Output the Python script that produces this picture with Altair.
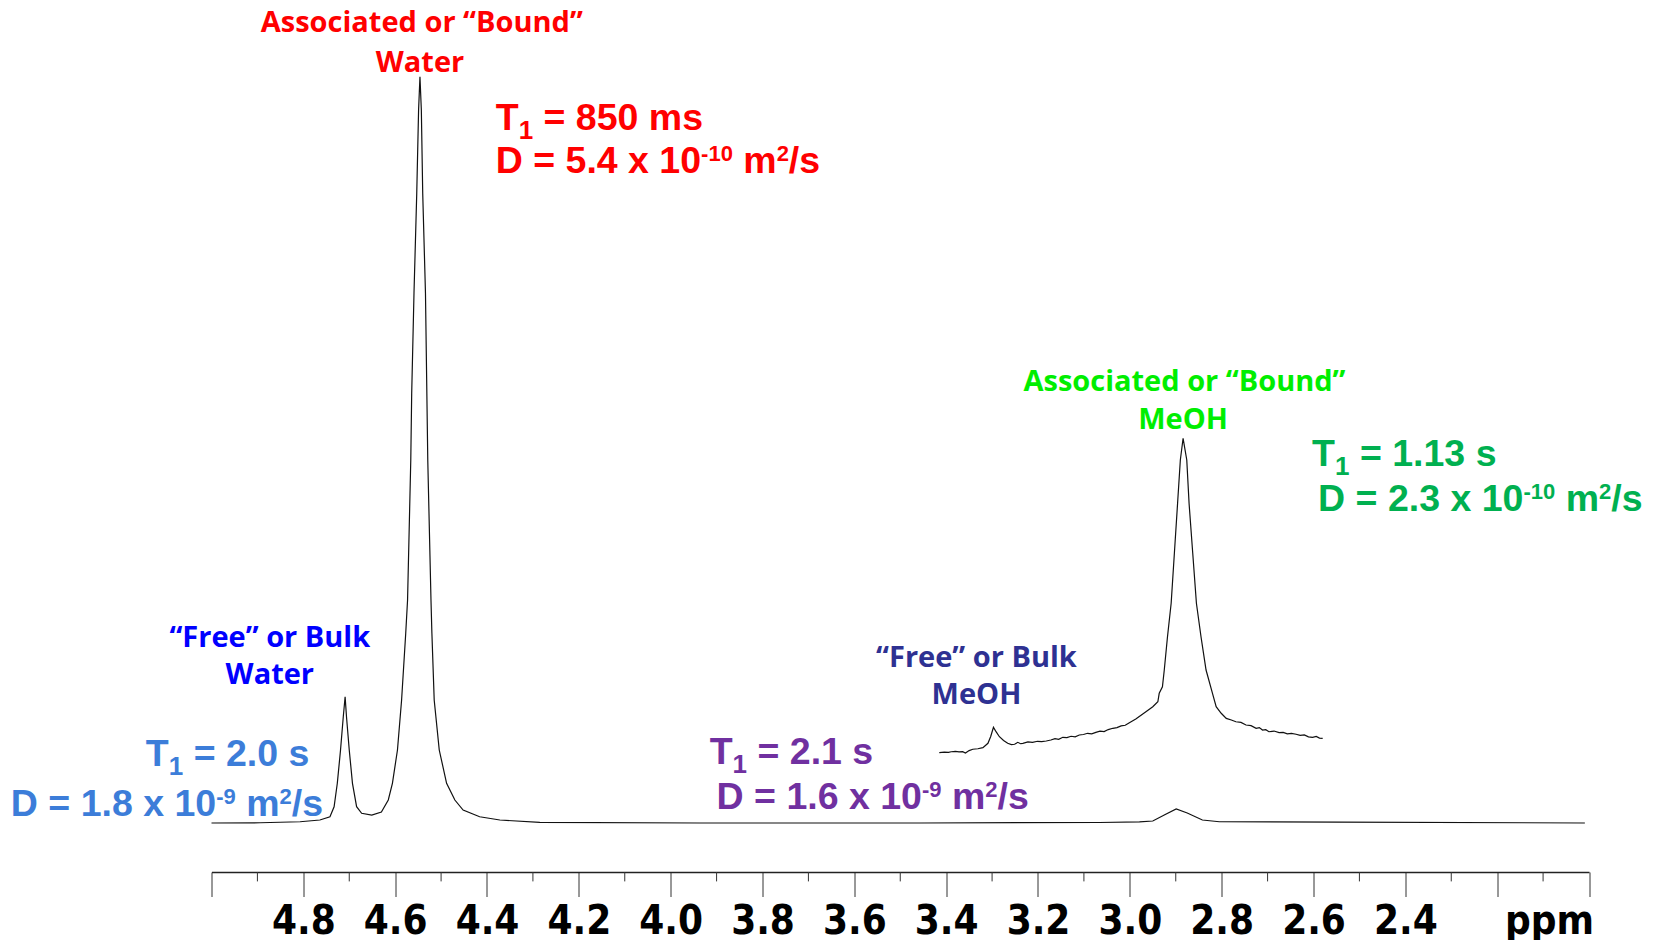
import altair as alt
import pandas as pd

# ---- spectrum values (ppm, intensity; main peak = 100) ----
main_ppm = [5.000, 4.894, 4.807, 4.764, 4.742, 4.733, 4.726, 4.719, 4.713, 4.709,
            4.706, 4.700, 4.693, 4.684, 4.673, 4.651, 4.630, 4.615, 4.606, 4.595,
            4.586, 4.577, 4.573, 4.566, 4.564, 4.559, 4.553, 4.549, 4.546, 4.543,
            4.540, 4.534, 4.531, 4.529, 4.522, 4.520, 4.515, 4.504, 4.488, 4.470,
            4.452, 4.416, 4.372, 4.285, 3.937, 3.458, 3.066, 2.979, 2.950, 2.925,
            2.899, 2.875, 2.842, 2.805, 2.544, 2.009]
main_int = [0.00, 0.03, 0.17, 0.40, 0.84, 2.18, 5.32, 9.78, 14.24, 16.92,
            14.24, 9.78, 5.32, 2.18, 1.30, 1.07, 1.47, 3.08, 5.32, 9.78,
            16.48, 25.42, 29.88, 48.64, 57.58, 70.98, 84.38, 95.54, 100.0, 95.54,
            84.38, 70.98, 57.58, 48.64, 29.88, 25.42, 16.48, 9.78, 5.32, 3.08,
            1.74, 0.84, 0.40, 0.09, 0.00, 0.00, 0.07, 0.16, 0.27, 1.07,
            1.88, 1.34, 0.40, 0.17, 0.13, 0.00]

inset_ppm = [3.415, 3.404, 3.395, 3.389, 3.380, 3.372, 3.364, 3.358, 3.350, 3.342,
             3.331, 3.320, 3.309, 3.303, 3.297, 3.291, 3.284, 3.275, 3.266, 3.258,
             3.251, 3.244, 3.238, 3.233, 3.222, 3.212, 3.201, 3.192, 3.182, 3.172,
             3.163, 3.155, 3.146, 3.137, 3.128, 3.119, 3.110, 3.101, 3.092, 3.083,
             3.074, 3.065, 3.056, 3.047, 3.037, 3.028, 3.019, 3.010, 3.001, 2.987,
             2.965, 2.950, 2.939, 2.936, 2.929, 2.925, 2.918, 2.910, 2.903, 2.896,
             2.890, 2.884, 2.876, 2.871, 2.863, 2.855, 2.845, 2.834, 2.820, 2.812,
             2.801, 2.790, 2.779, 2.769, 2.758, 2.747, 2.736, 2.725, 2.718, 2.711,
             2.704, 2.697, 2.686, 2.675, 2.666, 2.657, 2.648, 2.638, 2.629, 2.620,
             2.611, 2.602, 2.594, 2.587, 2.580]
inset_int = [9.42, 9.50, 9.47, 9.55, 9.60, 9.52, 9.55, 9.38, 9.70, 9.88,
             9.95, 10.09, 10.68, 11.60, 12.82, 12.20, 11.56, 11.05, 10.68, 10.50,
             10.55, 10.81, 10.62, 10.68, 10.86, 10.80, 10.95, 10.90, 10.99, 11.12,
             11.30, 11.22, 11.48, 11.45, 11.62, 11.55, 11.79, 11.86, 12.02, 11.95,
             12.15, 12.30, 12.25, 12.52, 12.69, 12.78, 13.02, 13.10, 13.44, 13.94,
             14.91, 15.58, 16.25, 17.38, 18.26, 20.50, 24.96, 29.44, 36.14, 42.84,
             48.64, 51.55, 48.64, 42.84, 36.14, 29.44, 24.96, 20.50, 17.38, 15.58,
             14.70, 14.02, 13.80, 13.57, 13.48, 13.13, 13.05, 12.69, 12.78, 12.46,
             12.50, 12.23, 12.32, 12.10, 12.15, 11.95, 12.02, 11.89, 11.75, 11.80,
             11.55, 11.48, 11.60, 11.38, 11.35]

major_ticks = [5.0, 4.8, 4.6, 4.4, 4.2, 4.0, 3.8, 3.6, 3.4, 3.2, 3.0, 2.8, 2.6, 2.4, 2.2, 2.0]
minor_ticks = [4.9, 4.7, 4.5, 4.3, 4.1, 3.9, 3.7, 3.5, 3.3, 3.1, 2.9, 2.7, 2.5, 2.3, 2.1]

# ---- annotations: peak labels ----
head_text = ["Associated or \u201cBound\u201d", "Water",
             "Associated or \u201cBound\u201d", "MeOH",
             "\u201cFree\u201d or Bulk", "Water",
             "\u201cFree\u201d or Bulk", "MeOH"]
head_ppm = [4.542, 4.546, 2.881, 2.884, 4.873, 4.873, 3.334, 3.334]
head_int = [107.5, 102.2, 59.36, 54.40, 25.19, 20.10, 22.51, 17.42]
head_col = ["#FF0000", "#FF0000", "#00EE00", "#00EE00",
            "#0000FF", "#0000FF", "#2E3192", "#2E3192"]

# ---- annotations: relaxation / diffusion lines (T1 value, D mantissa, D exponent) ----
par_t1 = ["850 ms", "1.13 s", "2.0 s", "2.1 s"]
par_dval = ["5.4", "2.3", "1.8", "1.6"]
par_dexp = ["-10", "-10", "-9", "-9"]
par_t_ppm = [4.381, 2.603, 5.143, 3.915]
par_d_ppm = [4.381, 2.590, 5.437, 3.900]
par_t_int = [94.73, 49.71, 9.51, 9.78]
par_d_int = [89.04, 43.75, 2.87, 3.75]
par_col = ["#FF0000", "#00B050", "#3C7DD9", "#7030A0"]

W, H = 1377.5, 864
PX_PER_PPM = W / 3.0
BASE, SUB, SUP = 37.5, 26, 22
SIZES = {"base": BASE, "sub": SUB, "sup": SUP}

# Arial/Liberation Sans Bold advance widths (em)
ADV = {" ": .278, "=": .584, ".": .278, "-": .333, "/": .278, "D": .722, "T": .611,
       "m": .889, "s": .556, "x": .556}


def text_width(s, size):
    return sum(ADV.get(c, .556) for c in s) * size


def add_line(rows, segs, ppm0, inten, col):
    off = 0.0
    for s, kind in segs:
        size = SIZES[kind]
        lead = len(s) - len(s.lstrip(" "))
        off += text_width(" " * lead, size)
        body = s.lstrip(" ")
        rows.append({"text": body, "kind": kind, "ppm": ppm0 - off / PX_PER_PPM,
                     "intensity": inten, "col": col})
        off += text_width(body, size)


rows = []
for i in range(len(par_t1)):
    add_line(rows, [("T", "base"), ("1", "sub"), (" = " + par_t1[i], "base")],
             par_t_ppm[i], par_t_int[i], par_col[i])
    add_line(rows, [("D = " + par_dval[i] + " x 10", "base"), (par_dexp[i], "sup"),
                    (" m", "base"), ("2", "sup"), ("/s", "base")],
             par_d_ppm[i], par_d_int[i], par_col[i])

pieces = pd.DataFrame(rows)

spec = pd.DataFrame({
    "ppm": main_ppm + inset_ppm,
    "intensity": main_int + inset_int,
    "trace": ["main"] * len(main_ppm) + ["inset"] * len(inset_ppm),
})
heads = pd.DataFrame({"text": head_text, "ppm": head_ppm, "intensity": head_int, "col": head_col})
minor = pd.DataFrame({"ppm": minor_ticks})

xscale = alt.Scale(domain=[5.0, 2.0], nice=False, zero=False)
yscale = alt.Scale(domain=[-6.566, 109.205], nice=False, zero=False)

narrow = "Liberation Sans Narrow, Arial Narrow, DejaVu Sans Condensed, sans-serif"
bold_sans = "Liberation Sans, Arial, sans-serif"

xaxis = alt.Axis(
    values=major_ticks,
    labelExpr="(datum.value > 2.3 && datum.value < 4.9) ? format(datum.value, '.1f') : ''",
    tickSize=24.5, tickColor="#333333", tickWidth=1,
    domainColor="#222222", domainWidth=1.5,
    labelFont=narrow, labelFontSize=40, labelFontWeight="bold", labelColor="#000000",
    labelBaseline="alphabetic", labelPadding=37, labelOverlap=False, labelFlush=False,
    grid=False,
    title="ppm", titleFont=narrow, titleFontSize=40, titleFontWeight="bold",
    titleColor="#000000", titleX=1337.5, titleY=61.5, titleAlign="center",
    titleBaseline="alphabetic", titleAngle=0,
)

lines = alt.Chart(spec).mark_line(color="#111111", strokeWidth=1.2).encode(
    x=alt.X("ppm:Q", scale=xscale, axis=xaxis),
    y=alt.Y("intensity:Q", scale=yscale, axis=None),
    detail="trace:N",
)

minor_rules = alt.Chart(minor).mark_rule(color="#333333", strokeWidth=1).encode(
    x=alt.X("ppm:Q", scale=xscale),
    y=alt.value(H),
    y2=alt.value(H + 9.4),
)

head_layer = alt.Chart(heads).mark_text(
    font="Open Sans", fontWeight="bold", fontSize=29, align="center", baseline="middle", dy=2.5
).encode(
    x=alt.X("ppm:Q", scale=xscale),
    y=alt.Y("intensity:Q", scale=yscale),
    text="text:N",
    color=alt.Color("col:N", scale=None),
)


def piece_layer(kind, size, dy):
    return alt.Chart(pieces).transform_filter(alt.datum.kind == kind).mark_text(
        font=bold_sans, fontWeight="bold", fontSize=size, align="left",
        baseline="alphabetic", dy=dy
    ).encode(
        x=alt.X("ppm:Q", scale=xscale),
        y=alt.Y("intensity:Q", scale=yscale),
        text="text:N",
        color=alt.Color("col:N", scale=None),
    )


base_layer = piece_layer("base", BASE, 14.4)
sub_layer = piece_layer("sub", SUB, 23.4)
sup_layer = piece_layer("sup", SUP, 2.4)

chart = alt.layer(lines, minor_rules, head_layer, base_layer, sub_layer, sup_layer).properties(
    width=W, height=H,
    background="#ffffff",
    autosize=alt.AutoSizeParams(type="none"),
    padding={"left": 203.5, "top": 0, "right": 59, "bottom": 70},
).configure_view(strokeWidth=0, stroke=None)

chart.save("out.html", embed_options={"renderer": "svg", "actions": False})
